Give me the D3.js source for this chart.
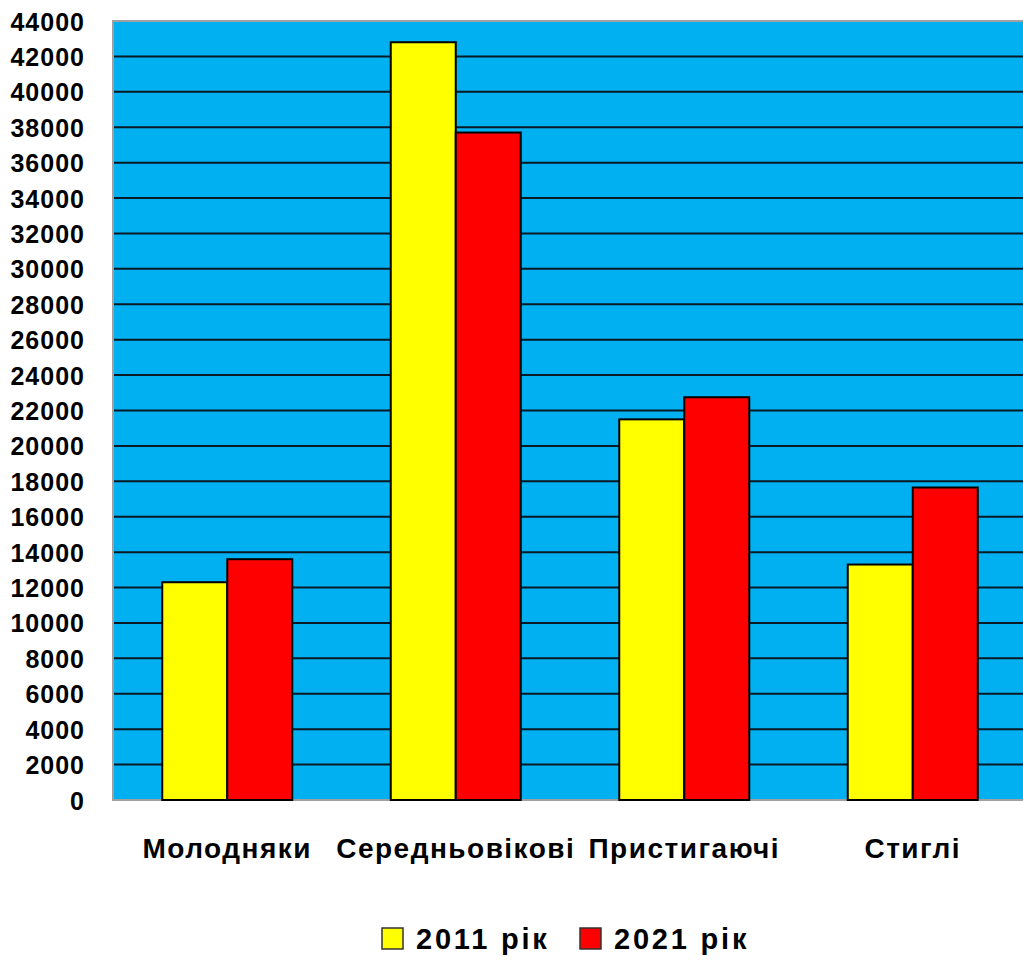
<!DOCTYPE html>
<html><head><meta charset="utf-8">
<script src="https://cdn.jsdelivr.net/npm/d3@7"></script>
<style>body{margin:0;background:#fff;} svg{display:block;}</style>
</head><body>
<svg id="c" width="1023" height="961"></svg>
<script>
const categories = ["Молодняки","Середньовікові","Пристигаючі","Стиглі"];
const seriesNames = ["2011 рік","2021 рік"];
const values2011 = [12300, 42800, 21500, 13300];
const values2021 = [13600, 37700, 22750, 17650];
const yTicks = d3.range(0, 44001, 2000);
const colors = ["#FFFF00","#FF0000"];

(function(){
const svg = d3.select("#c");
const pL = 113, pR = 1027, pT = 21, pB = 800;
const x0 = d3.scaleBand().domain(categories).range([pL, pR]).paddingInner(0).paddingOuter(0);
const x1 = d3.scaleBand().domain(seriesNames).range([0, 130]);
const y = d3.scaleLinear().domain([0, 44000]).range([pB, pT]);

svg.append("rect").attr("x", pL).attr("y", pT).attr("width", pR-pL).attr("height", pB-pT)
  .attr("fill", "#00B0F0").attr("stroke", "#A0A0A0").attr("stroke-width", 2);

svg.append("g").selectAll("line").data(yTicks.filter(d => d > 0 && d < 44000)).join("line")
  .attr("x1", pL+1).attr("x2", pR).attr("y1", d => y(d)).attr("y2", d => y(d))
  .attr("stroke", "#0a1a24").attr("stroke-width", 2);

const yAxis = d3.axisLeft(y).tickValues(yTicks).tickSize(0).tickPadding(0).tickFormat(d3.format("d"));
const ga = svg.append("g").attr("transform", `translate(${pL-28},0)`).call(yAxis);
ga.select(".domain").remove();
ga.selectAll("text").attr("font-family", "Liberation Sans, Arial, sans-serif").attr("font-weight", "bold")
  .attr("font-size", 25).attr("letter-spacing", 1).attr("fill", "#000").attr("dy", "0.36em");

const data = categories.map((c, i) => ({c, vals: [values2011[i], values2021[i]]}));
const g = svg.append("g");
data.forEach(d => {
  const cx = x0(d.c) + x0.bandwidth()/2 - 65;
  g.append("g").selectAll("rect").data(d.vals.map((v, j) => ({v, s: seriesNames[j], j}))).join("rect")
    .attr("x", e => cx + x1(e.s)).attr("width", x1.bandwidth())
    .attr("y", e => y(e.v)).attr("height", e => y(0) - y(e.v))
    .attr("fill", e => colors[e.j]).attr("stroke", "#000").attr("stroke-width", 2);
});

const xAxis = d3.axisBottom(x0).tickSize(0).tickPadding(0);
const gx = svg.append("g").attr("transform", `translate(0,${pB})`).call(xAxis);
gx.select(".domain").remove();
gx.selectAll("text").attr("font-family", "Liberation Sans, Arial, sans-serif").attr("font-weight", "bold")
  .attr("font-size", 28).attr("letter-spacing", 1.5).attr("fill", "#000").attr("y", 58).attr("dy", 0);

const leg = svg.append("g");
const legX = [382, 580];
seriesNames.forEach((s, j) => {
  leg.append("rect").attr("x", legX[j]).attr("y", 928).attr("width", 21).attr("height", 21)
    .attr("fill", colors[j]).attr("stroke", "#333").attr("stroke-width", 1.5);
  leg.append("text").attr("x", legX[j] + 34).attr("y", 949).text(s)
    .attr("font-family", "Liberation Sans, Arial, sans-serif").attr("font-weight", "bold")
    .attr("font-size", 29).attr("letter-spacing", 2.8).attr("fill", "#000");
});
})();
</script>
</body></html>
